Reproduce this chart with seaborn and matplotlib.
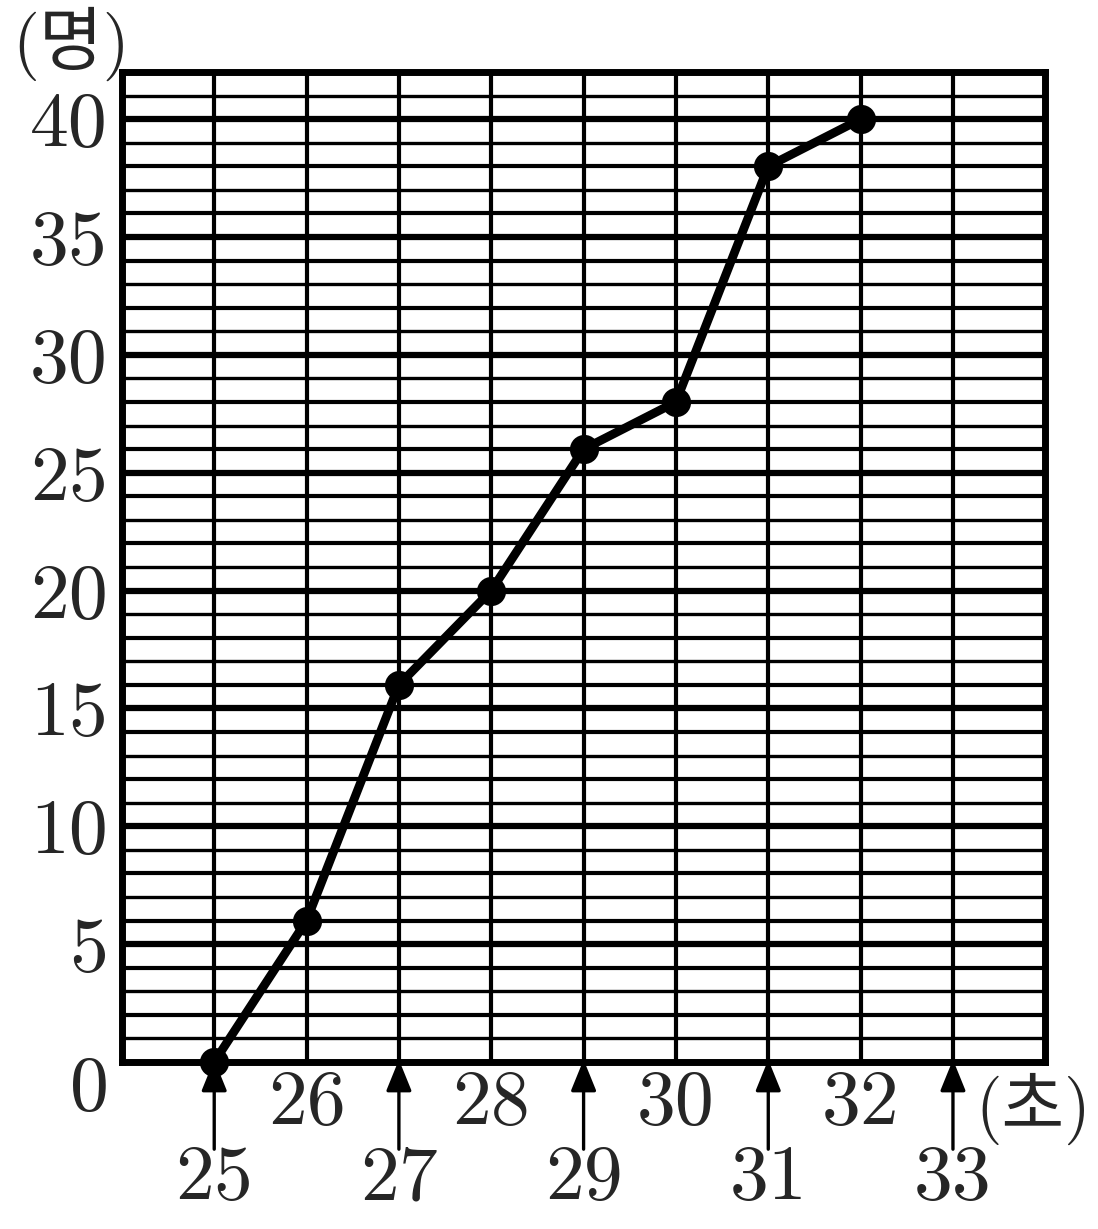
import numpy as np
import pandas as pd
import seaborn as sns
import matplotlib.pyplot as plt

# cumulative frequency polygon data
times = [25, 26, 27, 28, 29, 30, 31, 32]
counts = [0, 6, 16, 20, 26, 28, 38, 40]
y_labels = [5, 10, 15, 20, 25, 30, 35, 40]
even_labels = [26, 28, 30, 32]
odd_labels = [25, 27, 29, 31, 33]

sns.set_theme(style="white")
plt.rcParams['font.family'] = ['cmr10', 'Noto Sans CJK KR', 'DejaVu Sans']
plt.rcParams['axes.formatter.use_mathtext'] = True

fig = plt.figure(figsize=(10.98, 12.29), dpi=100)
ax = fig.add_axes([0.111, 0.1359, 0.841, 0.8055])
ax.set_xlim(24, 34)
ax.set_ylim(0, 42)

# grid: horizontal every 1, thicker every 5
for yv in range(1, 42):
    lw = 4.5 if yv % 5 == 0 else (3.0 if yv % 2 == 0 else 2.4)
    ax.axhline(yv, color='black', lw=lw, zorder=1)
for xv in range(25, 34):
    ax.axvline(xv, color='black', lw=3.0, zorder=1)

df = pd.DataFrame({'time': times, 'count': counts})
sns.lineplot(data=df, x='time', y='count', ax=ax, color='black', lw=6.3,
             marker='o', markersize=21, markeredgewidth=0, zorder=3,
             clip_on=False)

for s in ax.spines.values():
    s.set_linewidth(5)
    s.set_color('black')
    s.set_visible(True)

ax.set_xticks([])
ax.set_yticks(y_labels)
ax.set_yticklabels([str(v) for v in y_labels], fontsize=56)
ax.tick_params(axis='y', length=0, pad=10)
ax.set_xlabel('')
ax.set_ylabel('')

ax.text(23.65, -1.2, '0', fontsize=56, ha='center', va='center', clip_on=False)
for v in even_labels:
    ax.text(v, -1.8, str(v), fontsize=56, ha='center', va='center', clip_on=False)
for v in odd_labels:
    ax.text(v, -5.0, str(v), fontsize=56, ha='center', va='center', clip_on=False)
    ax.annotate('', xy=(v, 0.1), xytext=(v, -3.7), annotation_clip=False,
                arrowprops=dict(arrowstyle='-|>,head_length=1.6,head_width=0.65',
                                color='black', lw=2.4, shrinkA=0, shrinkB=0))

ax.text(33.87, -2.0, '(초)', fontsize=49, ha='center', va='center', clip_on=False)
ax.text(23.45, 43.2, '(명)', fontsize=50, ha='center', va='center', clip_on=False)

fig.savefig('out.png', dpi=100)
